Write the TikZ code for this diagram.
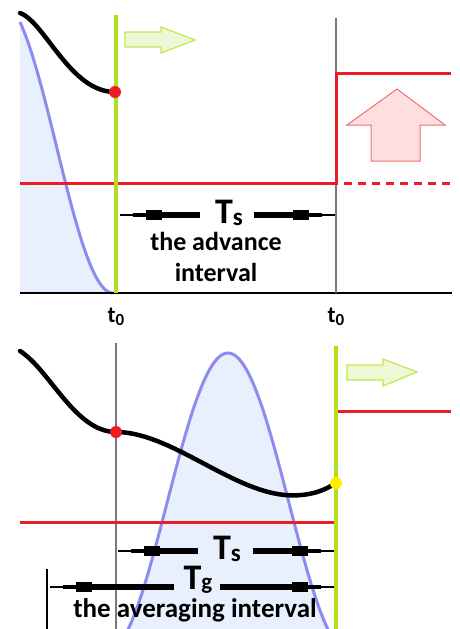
\documentclass[tikz,border=0pt]{standalone}
\usepackage{fontspec}
\setmainfont{Carlito}
\usetikzlibrary{calc}
\definecolor{curvered}{RGB}{237,28,36}
\definecolor{limegreen}{RGB}{178,222,30}
\definecolor{limefill}{RGB}{238,248,214}
\definecolor{limeedge}{RGB}{192,232,80}
\definecolor{bellblue}{RGB}{140,140,240}
\definecolor{bellfill}{RGB}{232,240,254}
\definecolor{pinkfill}{RGB}{255,222,224}
\definecolor{pinkedge}{RGB}{240,110,115}
\definecolor{axisgray}{RGB}{120,120,120}
\newcommand\dimarrow[2]{%
  \draw[line width=1.6pt] (#1) -- ($(#1)!15pt!(#2)$);
  \draw[line width=3.6pt] ($(#1)!13pt!(#2)$) -- ($(#1)!27pt!(#2)$);
  \draw[line width=9.5pt] ($(#1)!26pt!(#2)$) -- ($(#1)!42pt!(#2)$);
  \draw[line width=6pt] ($(#1)!41pt!(#2)$) -- (#2);}
\tikzset{
  signal/.style={line width=4.5pt, line cap=round},
  bellline/.style={bellblue, line width=3pt},
  redline/.style={curvered, line width=3pt},
  nowline/.style={limegreen, line width=4.5pt},
  grayline/.style={axisgray, line width=1.3pt},
  dot/.style={circle, inner sep=0pt, minimum size=12pt},
  lbl/.style={font=\fontsize{26}{26}\selectfont\bfseries, inner sep=0pt, anchor=base, text height=17pt, text depth=5pt},
  bigT/.style={font=\fontsize{36}{36}\selectfont\bfseries, inner sep=0pt, anchor=base, text height=23pt, text depth=3pt},
  tlbl/.style={font=\fontsize{23}{23}\selectfont\bfseries, inner sep=0pt, anchor=base},
  greenarrow/.style={fill=limefill, draw=limeedge, line width=1.2pt},
  pinkarrow/.style={fill=pinkfill, draw=pinkedge, line width=1pt}
}
\begin{document}
\begin{tikzpicture}[x=1pt,y=-1pt]
\useasboundingbox (0,0) rectangle (460,629);
% ---------- top panel ----------
\fill[bellfill] plot[domain=20:113, samples=60] (\x,{293-146.5*(1+cos(1.59292*\x))}) -- (20,293) -- cycle;
\draw[bellline] plot[domain=20:113, samples=60] (\x,{293-146.5*(1+cos(1.59292*\x))});
\draw[line width=1.5pt] (20,293) -- (452,293);
\draw[grayline] (336,18) -- (336,293);
\draw[redline] (20,183) -- (336,183) -- (336,73) -- (451,73);
\draw[redline, dash pattern=on 8pt off 6pt] (344,183) -- (451,183);
\draw[pinkarrow] (397,89) -- (445,125) -- (420,125) -- (420,161) -- (371,161) -- (371,125) -- (347,125) -- cycle;
\draw[signal] (20,13) .. controls (45,22) and (70,92) .. (115,92);
\draw[nowline] (116,15) -- (116,293);
\node[dot, fill=curvered] (p1) at (115,92) {};
\draw[greenarrow] (125,32) -- (161,32) -- (161,27) -- (195,40) -- (161,53) -- (161,47) -- (125,47) -- cycle;
\node[bigT] (Ts1) at (229,223) {T\raisebox{-2pt}{\fontsize{25}{25}\selectfont s}};
\coordinate (a1tip) at (120,215);
\coordinate (a1tail) at (200,215);
\coordinate (a2tip) at (335,215);
\coordinate (a2tail) at (254,215);
\dimarrow{a1tip}{a1tail}
\dimarrow{a2tip}{a2tail}
\node[lbl] (adv1) at (216,250) {the advance};
\node[lbl] (adv2) at (216,281) {interval};
\node[tlbl] (t01) at (116,322) {t\raisebox{-3pt}{\fontsize{17}{17}\selectfont 0}};
\node[tlbl] (t02) at (336,322) {t\raisebox{-3pt}{\fontsize{17}{17}\selectfont 0}};
% ---------- bottom panel ----------
\begin{scope}
\clip (0,330) rectangle (460,629);
\fill[bellfill] plot[domain=128:328, samples=100] (\x,{353+150*(1-cos(1.47541*(\x-228)))}) -- cycle;
\draw[bellline] plot[domain=120:336, samples=120] (\x,{353+150*(1-cos(1.47541*(\x-228)))});
\end{scope}
\draw[grayline] (116,343) -- (116,629);
\draw[line width=1.2pt] (47,569) -- (47,629);
\draw[redline] (20,522) -- (334,522);
\draw[redline] (338,411) -- (451,411);
\draw[signal] (20,351) .. controls (50,370) and (75,432) .. (116,432) .. controls (170,432) and (230,490) .. (285,495) .. controls (310,497) and (325,490) .. (336,483);
\draw[nowline] (336,346) -- (336,629);
\node[dot, fill=curvered] (p2) at (116,432) {};
\node[dot, fill=yellow] (p3) at (336,483) {};
\draw[greenarrow] (347,365) -- (383,365) -- (383,359) -- (417,372) -- (383,386) -- (383,380) -- (347,380) -- cycle;
\node[bigT] (Ts2) at (227,559) {T\raisebox{-2pt}{\fontsize{25}{25}\selectfont s}};
\node[bigT, text height=22pt, text depth=5pt] (Tg) at (198,589) {T\fontsize{23}{23}\selectfont g};
\coordinate (b1tip) at (118,551);
\coordinate (b1tail) at (198,551);
\coordinate (b2tip) at (334,551);
\coordinate (b2tail) at (253,551);
\coordinate (c1tip) at (50,587);
\coordinate (c1tail) at (174,587);
\coordinate (c2tip) at (334,587);
\coordinate (c2tail) at (220,587);
\dimarrow{b1tip}{b1tail}
\dimarrow{b2tip}{b2tail}
\dimarrow{c1tip}{c1tail}
\dimarrow{c2tip}{c2tail}
\node[lbl, font=\fontsize{27}{27}\selectfont\bfseries, text height=16pt] (avg) at (195,617) {the averaging interval};
\end{tikzpicture}
\end{document}
